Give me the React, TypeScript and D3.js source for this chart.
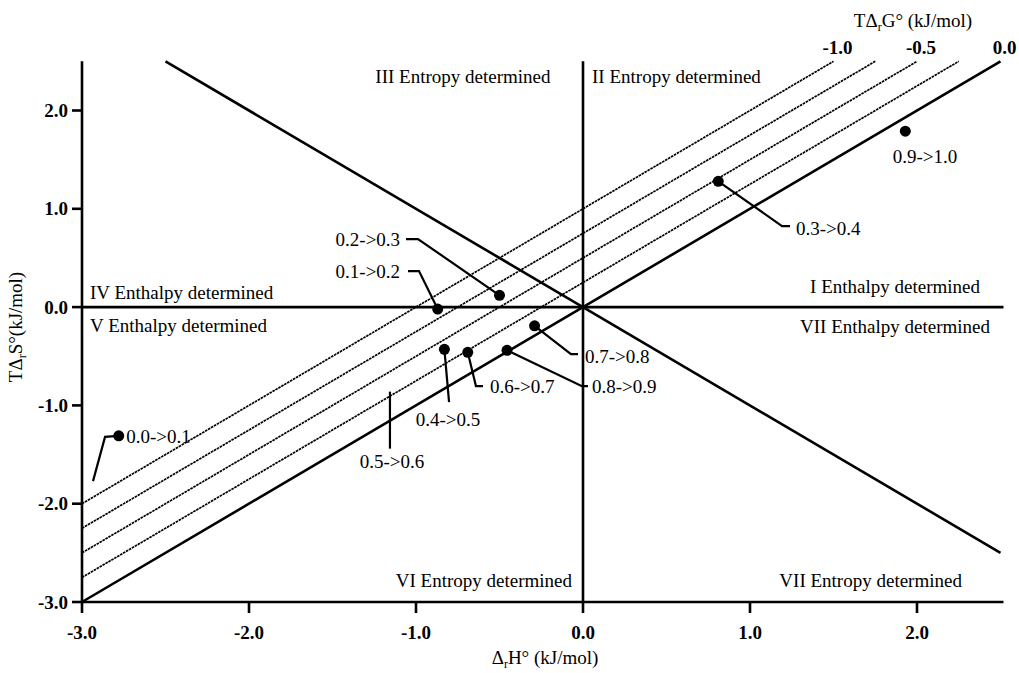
import React from "react";
import * as d3 from "d3";

// Axis ticks (kJ/mol)
const enthalpyTicks = [-3, -2, -1, 0, 1, 2];
const entropyTicks = [-3, -2, -1, 0, 1, 2];

// Iso-Gibbs lines: TΔS = ΔH − ΔG
const gibbsLevels = [-1.0, -0.75, -0.5, -0.25, 0.0];
const gibbsLabelValues = [-1.0, -0.5, 0.0];

// Transition steps with their enthalpy / entropy terms (kJ/mol)
const stepNames = ["0.0->0.1", "0.1->0.2", "0.2->0.3", "0.3->0.4", "0.4->0.5", "0.6->0.7", "0.7->0.8", "0.8->0.9", "0.9->1.0"];
const stepEnthalpy = [-2.78, -0.87, -0.5, 0.81, -0.83, -0.69, -0.29, -0.455, 1.93];
const stepEntropy = [-1.31, -0.02, 0.12, 1.28, -0.43, -0.46, -0.19, -0.44, 1.79];

// Step without a plotted point, marked by a short bar across ΔG = 0
const barStepName = "0.5->0.6";
const barStepEnthalpy = -1.156;
const barStepEntropyRange = [-0.86, -1.44];

// Plain hyphen-minus, one decimal
const fmt = (v: number) => v.toFixed(1);
const FONT = "'Liberation Serif', 'Times New Roman', serif";

type Pt = [number, number];

// Leader paths start at the step's point (index into step arrays)
const callouts: { idx: number; bends: Pt[]; label: Pt; anchor: "start" | "middle" | "end" }[] = [
  { idx: 0, bends: [[-2.862, -1.32], [-2.934, -1.77]], label: [-2.735, -1.31], anchor: "start" },
  { idx: 1, bends: [[-0.982, 0.366], [-1.048, 0.366]], label: [-1.095, 0.36], anchor: "end" },
  { idx: 2, bends: [[-0.988, 0.692], [-1.06, 0.692]], label: [-1.095, 0.69], anchor: "end" },
  { idx: 3, bends: [[1.192, 0.824], [1.24, 0.824]], label: [1.275, 0.80], anchor: "start" },
  { idx: 4, bends: [[-0.802, -0.966]], label: [-0.808, -1.14], anchor: "middle" },
  { idx: 5, bends: [[-0.641, -0.804], [-0.599, -0.804]], label: [-0.557, -0.81], anchor: "start" },
  { idx: 6, bends: [[-0.072, -0.478], [-0.03, -0.478]], label: [0.012, -0.50], anchor: "start" },
  { idx: 7, bends: [[-0.006, -0.804], [0.03, -0.804]], label: [0.054, -0.81], anchor: "start" },
  { idx: 8, bends: [], label: [2.048, 1.53], anchor: "middle" },
];

const regionLabels: { text: string; at: Pt; anchor: "start" | "middle" | "end" }[] = [
  { text: "III Entropy determined", at: [-0.719, 2.35], anchor: "middle" },
  { text: "II Entropy determined", at: [0.054, 2.35], anchor: "start" },
  { text: "IV Enthalpy determined", at: [-2.952, 0.153], anchor: "start" },
  { text: "V Enthalpy determined", at: [-2.952, -0.183], anchor: "start" },
  { text: "I Enthalpy determined", at: [2.377, 0.214], anchor: "end" },
  { text: "VII Enthalpy determined", at: [2.437, -0.193], anchor: "end" },
  { text: "VI Entropy determined", at: [-0.066, -2.777], anchor: "end" },
  { text: "VII Entropy determined", at: [2.269, -2.777], anchor: "end" },
];

export default function App() {
  const W = 1019, H = 673;
  const x = d3.scaleLinear().domain([-3, 2.5]).range([82, 1000.5]);
  const y = d3.scaleLinear().domain([-3, 2.5]).range([602, 61.35]);
  const line = d3.line<Pt>().x((d) => x(d[0])).y((d) => y(d[1]));

  const lx0 = x(-3), lx1 = x(2.5), ly0 = y(-3), ly1 = y(2.5);

  return (
    <svg width={W} height={H} style={{ position: "absolute", left: 0, top: 0, background: "#fff" }} fontFamily={FONT}>
      {/* iso-Gibbs lines */}
      {gibbsLevels.map((g) => {
        const pts: Pt[] = [[-3, -3 - g], [2.5 + g, 2.5]];
        const solid = g === 0;
        return (
          <path key={g} d={line(pts) || ""} fill="none" stroke="#000"
            strokeWidth={solid ? 2.6 : 1.7} strokeDasharray={solid ? undefined : "2.6 0.8"} />
        );
      })}
      {gibbsLabelValues.map((g) => (
        <text key={g} x={x(2.5 + g) + 4} y={y(2.5) - 7} textAnchor="middle" fontSize={19} fontWeight="bold">
          {fmt(g)}
        </text>
      ))}
      <text x={913} y={27} textAnchor="middle" fontSize={19}>
        TΔ<tspan fontSize={12} dy={4}>r</tspan><tspan dy={-4}>G° (kJ/mol)</tspan>
      </text>

      {/* anti-diagonal divider */}
      <path d={line([[-2.5, 2.5], [2.5, -2.5]]) || ""} fill="none" stroke="#000" strokeWidth={2.6} />

      {/* quadrant lines */}
      <line x1={lx0} x2={lx1 + 3} y1={y(0)} y2={y(0)} stroke="#000" strokeWidth={2.6} />
      <line x1={x(0)} x2={x(0)} y1={ly0} y2={ly1} stroke="#000" strokeWidth={2.6} />

      {/* axes */}
      <line x1={lx0} x2={lx1 + 3} y1={ly0} y2={ly0} stroke="#000" strokeWidth={2.6} />
      <line x1={lx0} x2={lx0} y1={ly0 + 1.3} y2={ly1} stroke="#000" strokeWidth={2.6} />
      {enthalpyTicks.map((t) => (
        <g key={"x" + t}>
          <line x1={x(t)} x2={x(t)} y1={ly0} y2={ly0 + 11} stroke="#000" strokeWidth={2.6} />
          <text x={x(t)} y={ly0 + 37} textAnchor="middle" fontSize={19} fontWeight="bold">{fmt(t)}</text>
        </g>
      ))}
      {entropyTicks.map((t) => (
        <g key={"y" + t}>
          <line x1={lx0 - 10} x2={lx0} y1={y(t)} y2={y(t)} stroke="#000" strokeWidth={2.6} />
          <text x={lx0 - 14} y={y(t)} dy="0.35em" textAnchor="end" fontSize={19} fontWeight="bold">{fmt(t)}</text>
        </g>
      ))}
      <text x={545} y={664} textAnchor="middle" fontSize={19}>
        Δ<tspan fontSize={12} dy={4}>r</tspan><tspan dy={-4}>H° (kJ/mol)</tspan>
      </text>
      <text transform={`translate(22,327) rotate(-90)`} textAnchor="middle" fontSize={19}>
        TΔ<tspan fontSize={12} dy={4}>r</tspan><tspan dy={-4}>S°(kJ/mol)</tspan>
      </text>

      {/* region labels */}
      {regionLabels.map((r) => (
        <text key={r.text + r.at[1]} x={x(r.at[0])} y={y(r.at[1])} dy="0.35em" textAnchor={r.anchor} fontSize={19}>
          {r.text}
        </text>
      ))}

      {/* step points with leaders */}
      {callouts.map((c) => {
        const p: Pt = [stepEnthalpy[c.idx], stepEntropy[c.idx]];
        return (
          <g key={stepNames[c.idx]}>
            {c.bends.length > 0 && (
              <path d={line([p, ...c.bends]) || ""} fill="none" stroke="#000" strokeWidth={2.2} />
            )}
            <circle cx={x(p[0])} cy={y(p[1])} r={5.5} fill="#000" />
            <text x={x(c.label[0])} y={y(c.label[1])} dy="0.35em" textAnchor={c.anchor} fontSize={19}>
              {stepNames[c.idx]}
            </text>
          </g>
        );
      })}
      <line x1={x(barStepEnthalpy)} x2={x(barStepEnthalpy)} y1={y(barStepEntropyRange[0])} y2={y(barStepEntropyRange[1])}
        stroke="#000" strokeWidth={2.2} />
      <text x={x(barStepEnthalpy) + 2} y={y(-1.567)} dy="0.35em" textAnchor="middle" fontSize={19}>{barStepName}</text>
    </svg>
  );
}
